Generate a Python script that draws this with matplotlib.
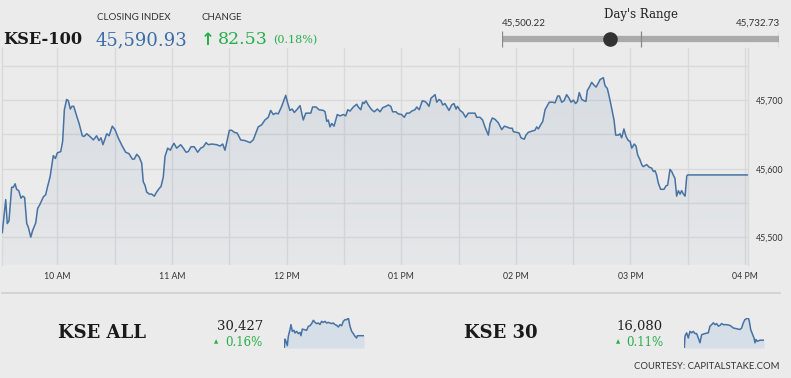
import numpy as np
import matplotlib
matplotlib.use("Agg")
import matplotlib.pyplot as plt

# ---------------- data ----------------
# KSE-100 intraday, minutes after 09:30
kse100_minutes = [
    1.1, 2.9, 3.7, 4.6, 6.0, 6.9, 7.8, 8.6, 9.7, 10.9,
    11.8, 12.8, 13.9, 14.7, 16.0, 17.0, 18.6, 19.6, 20.8, 22.6,
    23.8, 24.9, 26.1, 27.8, 28.9, 29.9, 31.7, 32.7, 33.6, 34.8,
    35.7, 36.7, 37.6, 38.5, 39.7, 41.3, 43.0, 43.9, 45.3, 47.0,
    48.8, 50.5, 51.7, 52.8, 53.8, 55.8, 57.0, 58.7, 60.1, 61.8,
    63.9, 65.7, 67.4, 69.2, 70.2, 71.5, 72.8, 74.1, 74.9, 75.8,
    76.7, 78.1, 79.3, 80.7, 81.9, 83.2, 84.2, 85.4, 86.3, 87.7,
    89.1, 90.1, 91.0, 92.4, 94.5, 95.9, 97.3, 98.5,
    99.9, 101.6, 103.4, 105.0, 106.4, 107.8, 109.0, 110.7, 113.4, 115.1,
    116.5, 117.7, 118.9, 120.0, 121.2, 122.6, 124.1, 125.9, 128.2, 130.8,
    132.5, 133.9, 135.1, 136.9, 138.6, 140.4, 141.6, 143.0, 144.3, 145.6,
    147.4, 149.5, 150.5, 151.7, 152.9, 154.0, 155.6, 157.0, 158.7, 160.0,
    162.6, 163.6, 165.4, 166.9, 169.2, 170.1, 171.0, 171.8, 172.7, 173.6,
    174.8, 176.5, 177.9, 179.7, 180.9, 182.0, 183.2, 184.9, 186.7, 187.5,
    188.8, 189.8, 190.5, 191.5, 192.7, 194.5, 195.9,
    197.5, 198.9, 200.3, 202.0, 203.2, 204.5, 205.5, 207.2, 208.4, 210.2,
    211.6, 212.8, 214.2, 215.5, 217.2, 218.1, 219.4, 221.0, 222.4, 223.3,
    224.5, 225.6, 226.5, 227.7, 228.6, 229.8, 230.8, 231.7, 232.9, 235.0,
    236.4, 237.6, 238.7, 239.4, 240.8, 242.2, 243.7, 245.1, 246.9, 248.6,
    249.5, 251.2, 252.6, 253.8, 255.6, 256.5, 257.7, 259.1, 260.8, 262.6,
    264.0, 265.2, 266.9, 268.1, 268.7, 270.4, 271.7, 272.7, 274.4, 275.3,
    276.5, 278.6, 280.0, 280.9, 281.8, 283.0, 284.1, 285.3, 286.5, 287.5,
    289.3, 290.5,
    291.9, 292.8, 294.0, 295.2, 296.6, 297.8, 298.9, 300.1, 301.3, 302.2,
    303.2, 304.5, 305.8, 306.7, 307.4, 308.5, 309.7, 310.9, 312.0, 313.2,
    314.1, 315.8, 316.7, 317.9, 319.3, 320.5, 321.4, 322.3, 323.7, 324.5,
    325.4, 326.6, 327.7, 328.9, 329.8, 330.7, 332.0, 332.9, 333.8, 335.0,
    335.9, 336.7, 338.5, 339.9, 341.1, 342.0, 342.9, 343.7, 344.6, 345.8,
    347.6, 348.6, 349.5, 350.7, 351.6, 352.4, 353.3, 354.2, 355.1, 356.0,
    356.8, 357.7, 358.6, 359.5, 360.0, 391.4,
]
kse100_values = [
    45507, 45555, 45520, 45524, 45573, 45573, 45578, 45570, 45568, 45557,
    45560, 45558, 45520, 45515, 45500.22, 45510, 45521, 45542, 45548, 45559,
    45562, 45575, 45588, 45619, 45615, 45623, 45625, 45640, 45686, 45701,
    45699, 45687, 45691, 45691, 45680, 45666, 45648, 45647, 45651, 45647,
    45642, 45648, 45641, 45645, 45635, 45651, 45648, 45662, 45657, 45645,
    45633, 45624, 45622, 45614, 45614, 45621, 45617, 45608, 45581, 45576,
    45566, 45563, 45563, 45560, 45566, 45571, 45574, 45588, 45618, 45630,
    45627, 45633, 45637, 45630, 45635, 45630, 45624, 45625,
    45632, 45632, 45624, 45630, 45632, 45638, 45635, 45636, 45635, 45633,
    45636, 45627, 45642, 45656, 45656, 45653, 45652, 45642, 45641, 45638,
    45642, 45652, 45661, 45664, 45671, 45675, 45685, 45679, 45681, 45680,
    45691, 45707, 45696, 45685, 45687, 45682, 45687, 45692, 45671, 45681,
    45681, 45690, 45690, 45686, 45685, 45683, 45669, 45671, 45661, 45666,
    45662, 45679, 45677, 45679, 45677, 45686, 45684, 45690, 45694, 45690,
    45686, 45697, 45695, 45699, 45693, 45686, 45683,
    45687, 45683, 45689, 45691, 45693, 45691, 45683, 45683, 45680, 45679,
    45675, 45681, 45681, 45684, 45686, 45690, 45686, 45699, 45698, 45696,
    45691, 45703, 45705, 45708, 45697, 45701, 45699, 45693, 45695, 45685,
    45693, 45695, 45687, 45691, 45685, 45682, 45675, 45681, 45681, 45681,
    45675, 45675, 45671, 45661, 45649, 45666, 45674, 45672, 45667, 45657,
    45662, 45661, 45659, 45659, 45654, 45653, 45652, 45645, 45643, 45649,
    45653, 45655, 45656, 45661, 45658, 45664, 45669, 45686, 45692, 45697,
    45697, 45696,
    45706, 45706, 45697, 45699, 45708, 45703, 45697, 45700, 45695, 45698,
    45711, 45701, 45699, 45698, 45714, 45719, 45726, 45722, 45719, 45725,
    45730, 45732.73, 45721, 45717, 45700, 45683, 45671, 45649, 45649, 45651,
    45645, 45658, 45647, 45641, 45640, 45630, 45636, 45633, 45620, 45613,
    45606, 45603, 45606, 45602, 45601, 45596, 45597, 45591, 45579, 45570,
    45570, 45575, 45576, 45599, 45596, 45591, 45586, 45560, 45568, 45563,
    45568, 45563, 45560, 45589.5, 45590.93, 45590.93,
]

time_ticks = [30, 60, 90, 120, 150, 180, 210, 240, 270, 300, 330, 360, 390]
time_labels = ["10 AM", "", "11 AM", "", "12 PM", "", "01 PM", "", "02 PM", "", "03 PM", "", "04 PM"]
value_ticks = [45500, 45550, 45600, 45650, 45700, 45750]
value_labels = ["45,500", "", "45,600", "", "45,700", ""]

closing_index = 45590.93
change_points = 82.53
change_pct = 0.18
day_low = 45500.22
day_high = 45732.73

kse_all_minutes = [1, 4.3, 9.2, 15.7, 20.6, 28.7, 33.6, 40.2, 48.3, 53.2,
                   61.4, 69.5, 77.7, 82.6, 89.1, 98.9, 110.3, 118.5, 126.7, 134.8,
                   143, 151.2, 159.3, 167.5, 175.6, 183.8, 192, 200.1, 208.3, 216.4,
                   224.6, 232.8, 240.9, 249.1, 257.2, 265.4, 273.6, 281.7, 289.9, 298,
                   306.2, 314.4, 322.5, 330.7, 338.8, 347, 355.2, 358.4, 363.3, 391]
kse_all_values = [30368, 30411, 30400, 30379, 30424, 30456, 30480, 30448, 30453, 30440,
                  30448, 30437, 30443, 30427, 30459, 30456, 30453, 30472, 30475, 30485,
                  30501, 30491, 30485, 30488, 30481, 30496, 30491, 30496, 30488, 30491,
                  30488, 30485, 30488, 30480, 30477, 30469, 30480, 30475, 30496, 30504,
                  30504, 30512, 30472, 30448, 30437, 30424, 30416, 30427, 30427, 30427]
kse30_minutes = [1, 4.3, 12.4, 20.6, 28.7, 36.9, 45.1, 53.2, 61.4, 69.5,
                 77.7, 85.9, 102.2, 118.5, 126.7, 134.8, 143, 151.2, 159.3, 167.5,
                 175.6, 183.8, 192, 208.3, 224.6, 240.9, 257.2, 273.6, 281.7, 289.9,
                 298, 306.2, 314.4, 319.2, 325.8, 335.6, 342.1, 347, 351.8, 358.4,
                 371.3, 391]
kse30_values = [16059, 16091, 16100, 16086, 16104, 16100, 16104, 16098, 16098, 16086,
                16073, 16095, 16098, 16100, 16118, 16122, 16127, 16122, 16125, 16118,
                16120, 16125, 16122, 16122, 16120, 16113, 16111, 16109, 16113, 16127,
                16136, 16138, 16140, 16131, 16109, 16095, 16086, 16073, 16082, 16077,
                16080, 16080]

sub_names = ["KSE ALL", "KSE 30"]
sub_last = ["30,427", "16,080"]
sub_pct = ["0.16%", "0.11%"]

# ---------------- style ----------------
W, H = 791, 378
BG = "#ebebeb"
GRID = "#d9d9d9"
LINE = "#4672a4"
GREEN = "#27ae48"
DARK = "#222222"
SERIF = "DejaVu Serif"
SANS = ["Lato", "DejaVu Sans"]


def fx(x):
    return x / W


def fy(y):
    return 1 - y / H


fig = plt.figure(figsize=(W / 100, H / 100), dpi=100, facecolor=BG)

# ---------------- main chart ----------------
ax = fig.add_axes([fx(2.3), fy(265), (747.7 - 2.3) / W, (265 - 48) / H])
ax.set_facecolor(BG)
x0, x1 = 1.1, 391.4
y0, y1 = 45459.6, 45776
t = np.array(kse100_minutes)
v = np.array(kse100_values)

poly = ax.fill_between(t, v, y0, color="none", lw=0)
grad = np.zeros((100, 1, 4))
grad[..., 0] = 70 / 255
grad[..., 1] = 114 / 255
grad[..., 2] = 164 / 255
grad[:, 0, 3] = np.linspace(0.035, 0.12, 100)
img = ax.imshow(grad, extent=[x0, x1, y0, max(v)], aspect="auto", origin="lower", zorder=1)
img.set_clip_path(poly.get_paths()[0], transform=ax.transData)
ax.plot(t, v, color=LINE, lw=1.1, zorder=3)

ax.set_xlim(x0, x1)
ax.set_ylim(y0, y1)
ax.set_xticks(time_ticks)
ax.set_xticklabels(time_labels, fontsize=6.3, color="#333333", family=SANS)
ax.set_yticks(value_ticks)
ax.set_yticklabels(value_labels, fontsize=6.3, color="#333333", family=SANS)
ax.yaxis.tick_right()
ax.tick_params(axis="both", length=0)
ax.tick_params(axis="x", pad=5)
ax.tick_params(axis="y", pad=6)
ax.grid(True, color=GRID, lw=1, zorder=0)
ax.set_axisbelow(True)
for s in ["top", "bottom"]:
    ax.spines[s].set_visible(False)
for s in ["left", "right"]:
    ax.spines[s].set_color(GRID)
    ax.spines[s].set_linewidth(1)

# ---------------- header ----------------
fig.text(fx(3), fy(38), "KSE-100", family=SERIF, weight="bold", fontsize=11.7,
         color="#1a1a1a", va="center_baseline")
fig.text(fx(97), fy(18), "CLOSING INDEX", family=SANS, fontsize=7, color="#333333", va="center")
fig.text(fx(96), fy(38), f"{closing_index:,.2f}", family=SERIF, fontsize=13,
         color="#3d6ea8", va="center_baseline")
fig.text(fx(202), fy(18), "CHANGE", family=SANS, fontsize=7, color="#333333", va="center")
fig.text(fx(201), fy(38), "\u2191", family="DejaVu Sans", weight="bold", fontsize=12,
         color=GREEN, va="center_baseline")
fig.text(fx(218), fy(38), f"{change_points:.2f}", family=SERIF, fontsize=12.5,
         color=GREEN, va="center_baseline")
fig.text(fx(273), fy(39), f"({change_pct:.2f}%)", family=SERIF, fontsize=8,
         color=GREEN, va="center_baseline")

# day's range
fig.text(fx(641), fy(14.5), "Day's Range", family=SERIF, fontsize=8.5, color=DARK,
         ha="center", va="center")
fig.text(fx(502), fy(23.3), f"{day_low:,.2f}", family=SANS, fontsize=7, color="#333333",
         ha="left", va="center")
fig.text(fx(779.5), fy(23.3), f"{day_high:,.2f}", family=SANS, fontsize=7, color="#333333",
         ha="right", va="center")
rax = fig.add_axes([fx(502.3), fy(48), 277 / W, 18 / H])
rax.set_xlim(day_low, day_high)
rax.set_ylim(-1, 1)
rax.axis("off")
rax.plot([day_low, day_high], [0, 0], color="#aaaaaa", lw=4.5, solid_capstyle="butt", zorder=1)
rax.vlines([day_low, (day_low + day_high) / 2, day_high], -0.92, 0.92, color="#888888", lw=0.9, zorder=2)
rax.plot([closing_index], [0], "o", color="#333333", ms=9.5, zorder=3)

# ---------------- bottom section ----------------
fig.add_artist(plt.Line2D([fx(2), fx(780)], [fy(293), fy(293)], color="#cfcfcf", lw=1.2))

sub_series = [(kse_all_minutes, kse_all_values), (kse30_minutes, kse30_values)]
name_x = [58, 464]
num_right = [263, 663]
tri_x = [216, 618]
spark_x = [284.3, 684.3]
for i in range(2):
    fig.text(fx(name_x[i]), fy(338), sub_names[i], family=SERIF, weight="bold", fontsize=13,
             color="#1a1a1a", va="baseline")
    fig.text(fx(num_right[i]), fy(329.5), sub_last[i], family=SERIF, fontsize=9.5,
             color=DARK, ha="right", va="baseline")
    fig.text(fx(num_right[i]), fy(345.5), sub_pct[i], family=SERIF, fontsize=8.5,
             color=GREEN, ha="right", va="baseline")
    fig.text(fx(tri_x[i]), fy(342), "\u25b2", family="DejaVu Sans", fontsize=4,
             color=GREEN, ha="center", va="center")
    sx = fig.add_axes([fx(spark_x[i]), fy(348), 79.7 / W, 30 / H])
    mt, mv = np.array(sub_series[i][0]), np.array(sub_series[i][1])
    sx.fill_between(mt, mv, mv.min(), color="#d6dee7", lw=0)
    sx.plot(mt, mv, color=LINE, lw=1.1)
    sx.set_xlim(mt.min(), mt.max())
    sx.set_ylim(mv.min(), mv.max())
    sx.axis("off")

fig.text(fx(779.5), fy(366.5), "COURTESY: CAPITALSTAKE.COM", family=SANS, fontsize=6.8,
         color="#333333", ha="right", va="center")

fig.savefig("out.png", dpi=100, facecolor=BG)
